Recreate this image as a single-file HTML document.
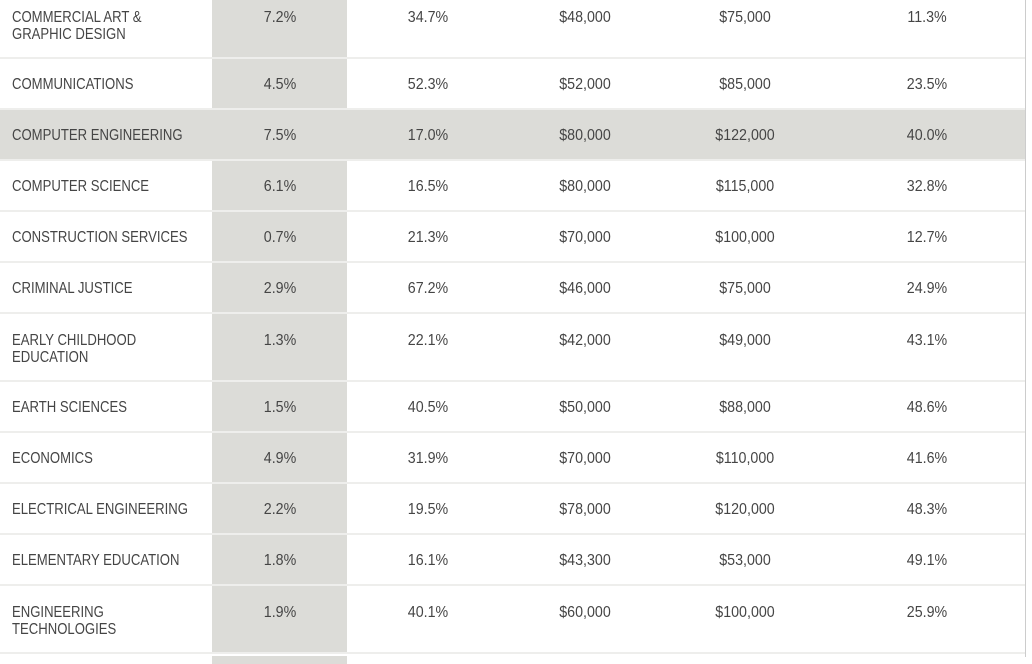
<!DOCTYPE html>
<html><head><meta charset="utf-8"><style>
body{margin:0;width:1032px;height:664px;background:#fff;position:relative;overflow:hidden;font-family:"Liberation Sans",sans-serif;color:#454545;font-size:16px;}
.row{position:absolute;left:0;width:1025px;border-bottom:2px solid #eeeeec;}
.g{position:absolute;left:212px;width:135px;top:0;bottom:0;background:#dcdcd8;}
.hl{background:#dcdcd8;}
.t{position:absolute;top:9px;line-height:17px;white-space:nowrap;}
.n{left:12px;transform:scaleX(.82);transform-origin:0 0;}
.c{transform:translateX(-50%) scaleX(.89);}
.vr{position:absolute;left:1025px;top:0;width:1px;height:657px;background:#ccc;}
</style></head><body>
<div class="vr"></div>
<div class="row" style="top:0;height:57px"><div class="g"></div><div class="t n">COMMERCIAL ART &amp;<br>GRAPHIC DESIGN</div><div class="t c" style="left:280px">7.2%</div><div class="t c" style="left:428px">34.7%</div><div class="t c" style="left:585px">$48,000</div><div class="t c" style="left:745px">$75,000</div><div class="t c" style="left:927px">11.3%</div></div>
<div class="row" style="top:59px;height:49px"><div class="g"></div><div class="t n" style="top:17px">COMMUNICATIONS</div><div class="t c" style="left:280px;top:17px">4.5%</div><div class="t c" style="left:428px;top:17px">52.3%</div><div class="t c" style="left:585px;top:17px">$52,000</div><div class="t c" style="left:745px;top:17px">$85,000</div><div class="t c" style="left:927px;top:17px">23.5%</div></div>
<div class="row hl" style="top:110px;height:49px"><div class="t n" style="top:17px">COMPUTER ENGINEERING</div><div class="t c" style="left:280px;top:17px">7.5%</div><div class="t c" style="left:428px;top:17px">17.0%</div><div class="t c" style="left:585px;top:17px">$80,000</div><div class="t c" style="left:745px;top:17px">$122,000</div><div class="t c" style="left:927px;top:17px">40.0%</div></div>
<div class="row" style="top:161px;height:49px"><div class="g"></div><div class="t n" style="top:17px">COMPUTER SCIENCE</div><div class="t c" style="left:280px;top:17px">6.1%</div><div class="t c" style="left:428px;top:17px">16.5%</div><div class="t c" style="left:585px;top:17px">$80,000</div><div class="t c" style="left:745px;top:17px">$115,000</div><div class="t c" style="left:927px;top:17px">32.8%</div></div>
<div class="row" style="top:212px;height:49px"><div class="g"></div><div class="t n" style="top:17px">CONSTRUCTION SERVICES</div><div class="t c" style="left:280px;top:17px">0.7%</div><div class="t c" style="left:428px;top:17px">21.3%</div><div class="t c" style="left:585px;top:17px">$70,000</div><div class="t c" style="left:745px;top:17px">$100,000</div><div class="t c" style="left:927px;top:17px">12.7%</div></div>
<div class="row" style="top:263px;height:49px"><div class="g"></div><div class="t n" style="top:17px">CRIMINAL JUSTICE</div><div class="t c" style="left:280px;top:17px">2.9%</div><div class="t c" style="left:428px;top:17px">67.2%</div><div class="t c" style="left:585px;top:17px">$46,000</div><div class="t c" style="left:745px;top:17px">$75,000</div><div class="t c" style="left:927px;top:17px">24.9%</div></div>
<div class="row" style="top:314px;height:66px"><div class="g"></div><div class="t n" style="top:18px">EARLY CHILDHOOD<br>EDUCATION</div><div class="t c" style="left:280px;top:18px">1.3%</div><div class="t c" style="left:428px;top:18px">22.1%</div><div class="t c" style="left:585px;top:18px">$42,000</div><div class="t c" style="left:745px;top:18px">$49,000</div><div class="t c" style="left:927px;top:18px">43.1%</div></div>
<div class="row" style="top:382px;height:49px"><div class="g"></div><div class="t n" style="top:17px">EARTH SCIENCES</div><div class="t c" style="left:280px;top:17px">1.5%</div><div class="t c" style="left:428px;top:17px">40.5%</div><div class="t c" style="left:585px;top:17px">$50,000</div><div class="t c" style="left:745px;top:17px">$88,000</div><div class="t c" style="left:927px;top:17px">48.6%</div></div>
<div class="row" style="top:433px;height:49px"><div class="g"></div><div class="t n" style="top:17px">ECONOMICS</div><div class="t c" style="left:280px;top:17px">4.9%</div><div class="t c" style="left:428px;top:17px">31.9%</div><div class="t c" style="left:585px;top:17px">$70,000</div><div class="t c" style="left:745px;top:17px">$110,000</div><div class="t c" style="left:927px;top:17px">41.6%</div></div>
<div class="row" style="top:484px;height:49px"><div class="g"></div><div class="t n" style="top:17px">ELECTRICAL ENGINEERING</div><div class="t c" style="left:280px;top:17px">2.2%</div><div class="t c" style="left:428px;top:17px">19.5%</div><div class="t c" style="left:585px;top:17px">$78,000</div><div class="t c" style="left:745px;top:17px">$120,000</div><div class="t c" style="left:927px;top:17px">48.3%</div></div>
<div class="row" style="top:535px;height:49px"><div class="g"></div><div class="t n" style="top:17px">ELEMENTARY EDUCATION</div><div class="t c" style="left:280px;top:17px">1.8%</div><div class="t c" style="left:428px;top:17px">16.1%</div><div class="t c" style="left:585px;top:17px">$43,300</div><div class="t c" style="left:745px;top:17px">$53,000</div><div class="t c" style="left:927px;top:17px">49.1%</div></div>
<div class="row" style="top:586px;height:66px"><div class="g"></div><div class="t n" style="top:18px">ENGINEERING<br>TECHNOLOGIES</div><div class="t c" style="left:280px;top:18px">1.9%</div><div class="t c" style="left:428px;top:18px">40.1%</div><div class="t c" style="left:585px;top:18px">$60,000</div><div class="t c" style="left:745px;top:18px">$100,000</div><div class="t c" style="left:927px;top:18px">25.9%</div></div>
<div style="position:absolute;left:212px;width:135px;top:656px;height:8px;background:#dcdcd8"></div>
</body></html>
